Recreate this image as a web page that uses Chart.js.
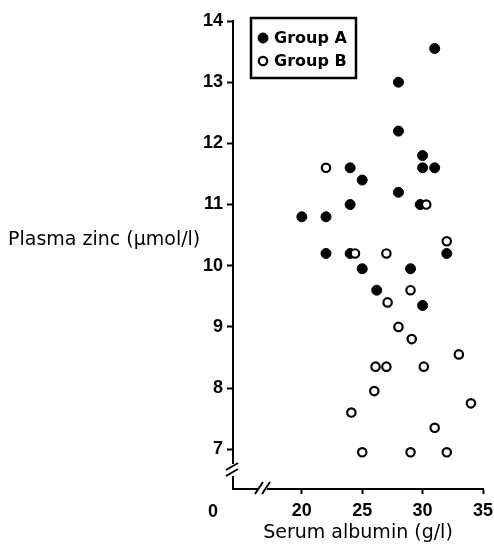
<!DOCTYPE html>
<html lang="en">
<head>
<meta charset="UTF-8" />
<title>Plasma zinc and serum albumin</title>
<script src="https://cdn.jsdelivr.net/npm/chart.js"></script>
<style>
  html, body { margin: 0; padding: 0; background: #fff; }
</style>
</head>
<body>
<canvas id="chart" width="494" height="544"></canvas>
<script>
// Group A (filled circles): serum albumin (g/l) and plasma zinc (umol/l)
const groupAAlbumin = [31, 28, 28, 30, 30, 31, 24, 25, 28, 24, 29.8, 20, 22, 22, 24, 25, 29, 32, 26.2, 30];
const groupAZinc = [13.55, 13.0, 12.2, 11.8, 11.6, 11.6, 11.6, 11.4, 11.2, 11.0, 11.0, 10.8, 10.8, 10.2, 10.2, 9.95, 9.95, 10.2, 9.6, 9.35];
// Group B (open circles)
const groupBAlbumin = [22, 30.3, 32, 24.4, 27, 29, 27.1, 28, 29.1, 33, 26.1, 27, 30.1, 26, 34, 24.1, 31, 25, 29, 32];
const groupBZinc = [11.6, 11.0, 10.4, 10.2, 10.2, 9.6, 9.4, 9.0, 8.8, 8.55, 8.35, 8.35, 8.35, 7.95, 7.75, 7.6, 7.35, 6.95, 6.95, 6.95];

const seriesNames = ["Group A", "Group B"];
const xTicks = [20, 25, 30, 35];
const yTicks = [7, 8, 9, 10, 11, 12, 13, 14];
const xOriginLabel = "0";
const xTitle = "Serum albumin (g/l)";
const yTitle = "Plasma zinc (\u03bcmol/l)";

const toPoints = (xs, ys) => xs.map((x, i) => ({ x: x, y: ys[i] }));
const tickFont = { family: "'Liberation Sans'", size: 18, weight: "bold" };

// extra drawing: horizontal y title, the "0" origin label, axis breaks, boxed legend
const extras = {
  id: "extras",
  afterDraw(chart) {
    const ctx = chart.ctx;
    const { left, bottom } = chart.chartArea;
    ctx.save();
    ctx.fillStyle = "#000";

    ctx.font = "19px 'DejaVu Sans'";
    ctx.textAlign = "left";
    ctx.textBaseline = "middle";
    ctx.fillText(yTitle, 8, 240);

    ctx.font = "bold 18px 'Liberation Sans'";
    ctx.textAlign = "center";
    ctx.fillText(xOriginLabel, left - 20, 512);

    // gaps in the axes
    ctx.fillStyle = "#fff";
    ctx.fillRect(left - 3, bottom - 25, 6, 12);
    ctx.fillRect(left + 26, bottom - 3, 8, 6);

    ctx.strokeStyle = "#000";
    ctx.lineWidth = 2;
    ctx.beginPath();
    // y-axis break
    ctx.moveTo(left - 7, bottom - 19); ctx.lineTo(left + 5, bottom - 26);
    ctx.moveTo(left - 7, bottom - 13); ctx.lineTo(left + 5, bottom - 20);
    // x-axis break
    ctx.moveTo(left + 22, bottom + 5); ctx.lineTo(left + 30, bottom - 7);
    ctx.moveTo(left + 29, bottom + 5); ctx.lineTo(left + 37, bottom - 7);
    ctx.stroke();

    // legend box
    ctx.lineWidth = 2.5;
    ctx.strokeRect(251, 18, 105, 60);
    ctx.font = "bold 16px 'DejaVu Sans'";
    ctx.textAlign = "left";
    chart.data.datasets.forEach((ds, i) => {
      const cy = 38 + i * 23;
      ctx.beginPath();
      ctx.arc(263, cy, ds.pointRadius, 0, Math.PI * 2);
      ctx.fillStyle = ds.backgroundColor;
      ctx.fill();
      ctx.lineWidth = ds.borderWidth;
      ctx.strokeStyle = "#000";
      ctx.stroke();
      ctx.fillStyle = "#000";
      ctx.fillText(ds.label, 274, cy + 1);
    });
    ctx.restore();
  }
};

new Chart(document.getElementById("chart"), {
  type: "scatter",
  data: {
    datasets: [
      {
        label: seriesNames[0],
        data: toPoints(groupAAlbumin, groupAZinc),
        pointRadius: 5,
        pointHoverRadius: 5,
        backgroundColor: "#000",
        borderColor: "#000",
        borderWidth: 1,
        order: 1,
      },
      {
        label: seriesNames[1],
        data: toPoints(groupBAlbumin, groupBZinc),
        pointRadius: 4.2,
        pointHoverRadius: 4.2,
        backgroundColor: "#fff",
        borderColor: "#000",
        borderWidth: 2.2,
        order: 0,
      },
    ],
  },
  options: {
    responsive: false,
    animation: false,
    devicePixelRatio: 1,
    layout: { padding: { left: 193, top: 21, right: 11, bottom: 0 } },
    plugins: { legend: { display: false }, tooltip: { enabled: false } },
    scales: {
      x: {
        type: "linear",
        min: 14.3,
        max: 35,
        afterBuildTicks: (scale) => { scale.ticks = xTicks.map((v) => ({ value: v })); },
        afterFit: (scale) => {
          scale.height = 55;
          scale.paddingLeft = 0;
          scale.paddingRight = 11;
        },
        ticks: { font: tickFont, color: "#000", padding: 6 },
        grid: { drawOnChartArea: false, drawTicks: true, tickLength: 5, tickColor: "#000", tickWidth: 2 },
        border: { display: true, color: "#000", width: 2 },
        title: {
          display: true,
          text: xTitle,
          color: "#000",
          font: { family: "'DejaVu Sans'", size: 19 },
          padding: { top: 0, bottom: 0 },
        },
      },
      y: {
        type: "linear",
        min: 6.35,
        max: 14,
        afterBuildTicks: (scale) => { scale.ticks = yTicks.map((v) => ({ value: v })); },
        afterFit: (scale) => { scale.width = 40; },
        ticks: { font: tickFont, color: "#000", padding: 4 },
        grid: { drawOnChartArea: false, drawTicks: true, tickLength: 6, tickColor: "#000", tickWidth: 2 },
        border: { display: true, color: "#000", width: 2 },
      },
    },
  },
  plugins: [extras],
});
</script>
</body>
</html>
